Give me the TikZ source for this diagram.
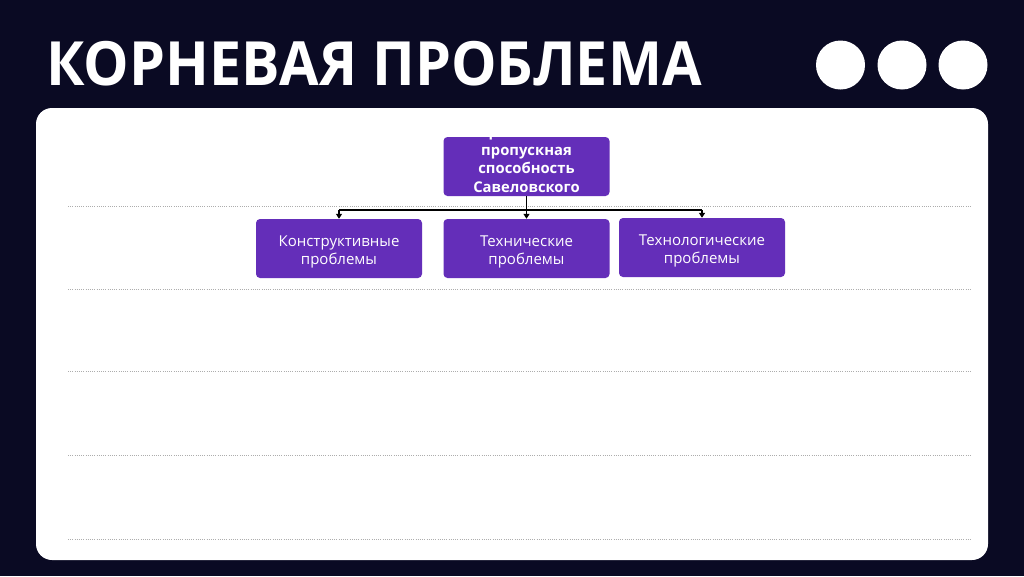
\documentclass[tikz,border=0pt]{standalone}
\usepackage{fontspec}
\setmainfont{Open Sans}
\usetikzlibrary{arrows.meta}
\definecolor{navy}{HTML}{0A0A23}
\definecolor{boxpurple}{HTML}{642EB9}
\definecolor{rule}{HTML}{ADADAD}
\tikzset{
  box/.style={draw=none, fill=boxpurple, rounded corners=4pt, minimum width=166pt, minimum height=59pt, inner sep=0pt},
  boxtext/.style={text=white, align=center, font=\fontsize{15}{18.5}\selectfont},
  roottext/.style={text=white, align=center, font=\fontsize{14.8}{18.5}\selectfont\bfseries},
  dotrule/.style={draw=rule, line width=0.9pt, dash pattern=on 1pt off 1.2pt},
  conn/.style={draw=black, line width=1.3pt},
  arr/.style={conn, -{Triangle[length=5pt,width=6pt]}},
  dot/.style={circle, fill=white, minimum size=49pt, inner sep=0pt}
}
\begin{document}
\begin{tikzpicture}[x=1pt,y=-1pt]
\useasboundingbox (0,0) rectangle (1024,576);
\fill[navy] (0,0) rectangle (1024,576);
% title
\node[anchor=west, text=white, font=\fontsize{61}{61}\selectfont\bfseries, inner sep=0pt, xscale=0.94] (title) at (46,64) {КОРНЕВАЯ ПРОБЛЕМА};
% dots
\node[dot] (d1) at (840.5,65) {};
\node[dot] (d2) at (902,65) {};
\node[dot] (d3) at (963,65) {};
% panel
\fill[white, rounded corners=16pt] (36,108) rectangle (988,560);
% dotted rules
\foreach \yy in {206,289,371,455,539} {\draw[dotrule] (68,\yy) -- (972,\yy);}
% boxes
\node[box] (root) at (526.5,166.5) {};
\node[roottext] (rootlabel) at (526.5,159) {Ограниченная\\пропускная\\способность\\Савеловского};
\node[box] (c1) at (339,248.5) {};
\node[boxtext] (c1label) at (339,252) {Конструктивные\\проблемы};
\node[box] (c2) at (526.5,248.5) {};
\node[boxtext] (c2label) at (526.5,252) {Технические\\проблемы};
\node[box] (c3) at (702,247.5) {};
\node[boxtext] (c3label) at (702,251) {Технологические\\проблемы};
% connectors
\coordinate (split) at (526.5,210);
\coordinate (hl) at (339,210);
\coordinate (hr) at (702,210);
\draw[conn] (root.south) -- (split);
\draw[conn] (hl) -- (hr);
\draw[arr] (hl) -- (c1.north);
\draw[arr] (split) -- (c2.north);
\draw[arr] (hr) -- (c3.north);
\end{tikzpicture}
\end{document}
